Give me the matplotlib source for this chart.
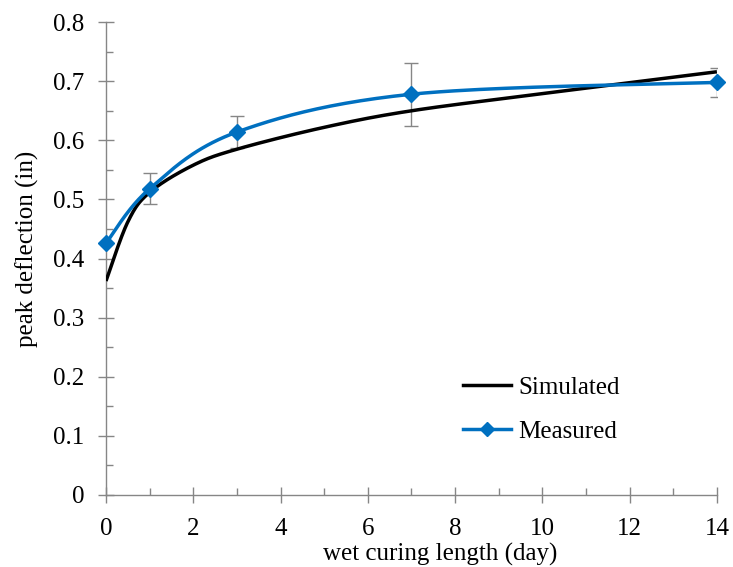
import matplotlib
matplotlib.use('Agg')
import matplotlib.pyplot as plt
import matplotlib.ticker as ticker
from matplotlib.lines import Line2D
import numpy as np

plt.rcParams['font.family'] = ['Liberation Serif', 'DejaVu Serif']

# Simulated peak deflection vs wet curing length
sim_days = [0, 0.5, 1, 2, 3, 5, 7, 10, 14]
sim_defl = [0.362, 0.462, 0.512, 0.558, 0.585, 0.622, 0.650, 0.679, 0.716]

# Measured values with error bars
meas_days = [0, 1, 3, 7, 14]
meas_defl = [0.426, 0.518, 0.614, 0.678, 0.698]
meas_err = [0.0, 0.026, 0.027, 0.053, 0.024]

XMAX, YMAX = 14, 0.8
BLUE = '#0070C0'
AXIS_GRAY = '#868686'


def smooth_curve(xs, ys, n=40):
    # Bezier smoothing like a spreadsheet "smoothed line", done in axis-normalised space
    p = np.column_stack([np.asarray(xs) / XMAX, np.asarray(ys) / YMAX])
    pts = []
    for i in range(len(p) - 1):
        p0 = p[i - 1] if i > 0 else p[i]
        p1, p2 = p[i], p[i + 1]
        p3 = p[i + 2] if i + 2 < len(p) else p[i + 1]
        c1 = p1 + (p2 - p0) / 6
        c2 = p2 - (p3 - p1) / 6
        t = np.linspace(0, 1, n)[:, None]
        seg = ((1 - t) ** 3 * p1 + 3 * (1 - t) ** 2 * t * c1
               + 3 * (1 - t) * t ** 2 * c2 + t ** 3 * p2)
        pts.append(seg if i == 0 else seg[1:])
    pts = np.vstack(pts)
    return pts[:, 0] * XMAX, pts[:, 1] * YMAX


fig = plt.figure(figsize=(7.33, 5.67), dpi=100)
ax = fig.add_axes([0.1446, 0.127, 0.8334, 0.834])

sx, sy = smooth_curve(sim_days, sim_defl)
ax.plot(sx, sy, color='black', linewidth=2.5, solid_capstyle='butt', zorder=3)

ax.errorbar(meas_days, meas_defl, yerr=meas_err, fmt='none', ecolor=AXIS_GRAY,
            elinewidth=1.0, capsize=5, capthick=1.0, zorder=2)
mx, my = smooth_curve(meas_days, meas_defl)
ax.plot(mx, my, color=BLUE, linewidth=2.5, zorder=4)
ax.plot(meas_days, meas_defl, linestyle='none', marker='D', markersize=8,
        color=BLUE, zorder=5, clip_on=False)

ax.set_xlim(0, XMAX)
ax.set_ylim(0, YMAX)
ax.xaxis.set_major_locator(ticker.MultipleLocator(2))
ax.xaxis.set_minor_locator(ticker.MultipleLocator(1))
ax.yaxis.set_major_locator(ticker.MultipleLocator(0.1))
ax.yaxis.set_minor_locator(ticker.MultipleLocator(0.05))
ax.yaxis.set_major_formatter(ticker.FuncFormatter(lambda v, p: '0' if v == 0 else f'{v:.1f}'))

for side in ['top', 'right']:
    ax.spines[side].set_visible(False)
for side in ['left', 'bottom']:
    ax.spines[side].set_color(AXIS_GRAY)
    ax.spines[side].set_linewidth(1.0)

ax.tick_params(which='major', direction='inout', length=11, width=1.0,
               color=AXIS_GRAY, labelsize=18, labelcolor='black')
ax.tick_params(which='minor', direction='in', length=5, width=1.0, color=AXIS_GRAY)
ax.tick_params(axis='x', which='major', pad=11)
ax.tick_params(axis='y', which='major', pad=10)

ax.set_xlabel('wet curing length (day)', fontsize=18, labelpad=2)
ax.set_ylabel('peak deflection (in)', fontsize=18, labelpad=10)
# axis titles sit a little off-centre
ax.xaxis.label.set_x(0.547)
ax.yaxis.label.set_y(0.52)

handles = [
    Line2D([0], [0], color='black', linewidth=2.5, label='Simulated'),
    Line2D([0], [0], color=BLUE, linewidth=2.5, marker='D', markersize=7, label='Measured'),
]
ax.legend(handles=handles, loc='center left', bbox_to_anchor=(0.548, 0.181),
          frameon=False, fontsize=18, handlelength=1.9, handletextpad=0.3,
          labelspacing=0.85)

fig.savefig('out.png', dpi=100, facecolor='white')
